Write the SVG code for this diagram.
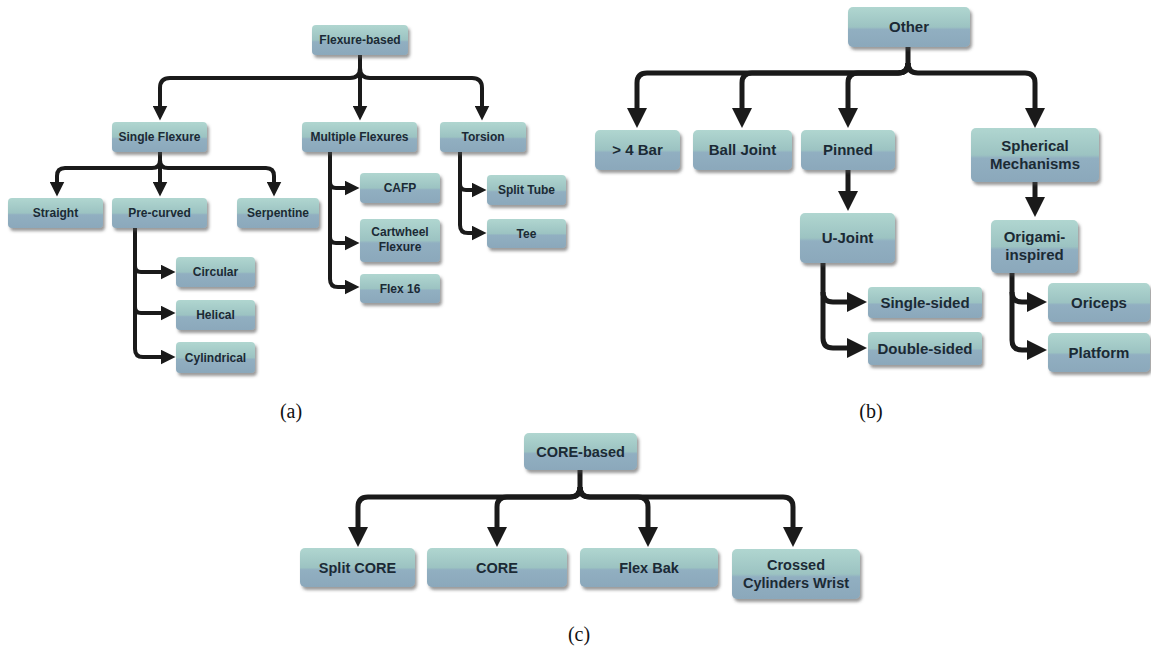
<svg xmlns="http://www.w3.org/2000/svg" width="1151" height="651" viewBox="0 0 1151 651">
<defs>
<linearGradient id="boxg" x1="0" y1="0" x2="0" y2="1">
<stop offset="0" stop-color="#b0d6d0"/>
<stop offset="0.5" stop-color="#9cc3c2"/>
<stop offset="0.56" stop-color="#91afc1"/>
<stop offset="1" stop-color="#8ba8bb"/>
</linearGradient>
<filter id="sh" x="-10%" y="-20%" width="130%" height="160%">
<feDropShadow dx="2" dy="3" stdDeviation="1.5" flood-color="#4a4a4a" flood-opacity="0.55"/>
</filter>
<marker id="ha" viewBox="0 0 10 10" refX="5" refY="5" markerWidth="15" markerHeight="15" markerUnits="userSpaceOnUse" orient="auto">
<path d="M0,0 L10,5 L0,10 z" fill="#1a1a1a"/>
</marker>
<marker id="hb" viewBox="0 0 10 10" refX="5" refY="5" markerWidth="20" markerHeight="22" markerUnits="userSpaceOnUse" orient="auto">
<path d="M0,0 L10,5 L0,10 z" fill="#1a1a1a"/>
</marker>
</defs>
<style>
.box{fill:url(#boxg);filter:url(#sh);}
.t{font-family:"Liberation Sans",Arial,sans-serif;font-weight:bold;fill:#1b2a35;text-anchor:middle;}
.ta{font-size:12px;}
.tb{font-size:15px;}
.tc{font-size:14.5px;}
.ca{fill:none;stroke:#1a1a1a;stroke-width:4;stroke-linejoin:round;marker-end:url(#ha);}
.cb{fill:none;stroke:#1a1a1a;stroke-width:5;stroke-linejoin:round;marker-end:url(#hb);}
.cap{font-family:"Liberation Serif","Times New Roman",serif;font-size:20px;fill:#111;text-anchor:middle;}
</style>
<rect width="1151" height="651" fill="#ffffff"/>

<g id="connectors">
<!-- panel a -->
<path class="ca" d="M360,55 V113"/>
<path class="ca" d="M360,68 Q360,78 350,78 H170 Q160,78 160,88 V113"/>
<path class="ca" d="M360,68 Q360,78 370,78 H472 Q482,78 482,88 V113"/>
<path class="ca" d="M160,152 V189"/>
<path class="ca" d="M160,160 Q160,168 152,168 H65 Q57,168 57,176 V189"/>
<path class="ca" d="M160,160 Q160,168 168,168 H266 Q274,168 274,176 V189"/>
<path class="ca" d="M135,228 V349 Q135,357 143,357 H168"/>
<path class="ca" d="M135,266 Q135,272 141,272 H168"/>
<path class="ca" d="M135,307 Q135,313 141,313 H168"/>
<path class="ca" d="M330,152 V279 Q330,287 338,287 H352"/>
<path class="ca" d="M330,182 Q330,188 336,188 H352"/>
<path class="ca" d="M330,237 Q330,243 336,243 H352"/>
<path class="ca" d="M460,152 V225 Q460,233 468,233 H479"/>
<path class="ca" d="M460,184 Q460,190 466,190 H479"/>
<!-- panel b -->
<path class="cb" d="M908,47 V63 Q908,73 898,73 H647 Q637,73 637,83 V118"/>
<path class="cb" d="M908,63 Q908,73 898,73 H752 Q742,73 742,83 V118"/>
<path class="cb" d="M908,63 Q908,73 898,73 H858 Q848,73 848,83 V118"/>
<path class="cb" d="M908,63 Q908,73 918,73 H1025 Q1035,73 1035,83 V118"/>
<path class="cb" d="M848,170 V201"/>
<path class="cb" d="M1035,182 V207"/>
<path class="cb" d="M823,263 V338 Q823,348 833,348 H857"/>
<path class="cb" d="M823,292 Q823,302 833,302 H857"/>
<path class="cb" d="M1012,273 V340 Q1012,350 1022,350 H1037"/>
<path class="cb" d="M1012,292 Q1012,302 1022,302 H1037"/>
<!-- panel c -->
<path class="cb" d="M580,470 V487 Q580,497 570,497 H368 Q358,497 358,507 V537"/>
<path class="cb" d="M580,487 Q580,497 570,497 H507 Q497,497 497,507 V537"/>
<path class="cb" d="M580,487 Q580,497 590,497 H638 Q648,497 648,507 V537"/>
<path class="cb" d="M580,487 Q580,497 590,497 H783 Q793,497 793,507 V537"/>
</g>

<!-- panel a nodes -->
<g id="flexure-based"><rect class="box" x="312" y="25" width="96" height="30" rx="4"/><text class="t ta" x="360" y="44">Flexure-based</text></g>
<g id="single-flexure"><rect class="box" x="112" y="122" width="95" height="30" rx="4"/><text class="t ta" x="159.5" y="141">Single Flexure</text></g>
<g id="multiple-flexures"><rect class="box" x="302" y="122" width="115" height="30" rx="4"/><text class="t ta" x="359.5" y="141">Multiple Flexures</text></g>
<g id="torsion"><rect class="box" x="440" y="122" width="86" height="30" rx="4"/><text class="t ta" x="483" y="141">Torsion</text></g>
<g id="straight"><rect class="box" x="8" y="198" width="95" height="30" rx="4"/><text class="t ta" x="55.5" y="217">Straight</text></g>
<g id="pre-curved"><rect class="box" x="112" y="198" width="95" height="30" rx="4"/><text class="t ta" x="159.5" y="217">Pre-curved</text></g>
<g id="serpentine"><rect class="box" x="237" y="198" width="82" height="30" rx="4"/><text class="t ta" x="278" y="217">Serpentine</text></g>
<g id="circular"><rect class="box" x="176" y="257" width="79" height="30" rx="4"/><text class="t ta" x="215.5" y="276">Circular</text></g>
<g id="helical"><rect class="box" x="176" y="300" width="79" height="30" rx="4"/><text class="t ta" x="215.5" y="319">Helical</text></g>
<g id="cylindrical"><rect class="box" x="176" y="342" width="79" height="31" rx="4"/><text class="t ta" x="215.5" y="361.5">Cylindrical</text></g>
<g id="cafp"><rect class="box" x="360" y="173" width="80" height="30" rx="4"/><text class="t ta" x="400" y="192">CAFP</text></g>
<g id="cartwheel-flexure"><rect class="box" x="360" y="219" width="80" height="43" rx="4"/><text class="t ta" x="400" y="236">Cartwheel</text><text class="t ta" x="400" y="251">Flexure</text></g>
<g id="flex-16"><rect class="box" x="360" y="274" width="80" height="29" rx="4"/><text class="t ta" x="400" y="292.5">Flex 16</text></g>
<g id="split-tube"><rect class="box" x="487" y="175" width="79" height="30" rx="4"/><text class="t ta" x="526.5" y="194">Split Tube</text></g>
<g id="tee"><rect class="box" x="487" y="219" width="79" height="29" rx="4"/><text class="t ta" x="526.5" y="237.5">Tee</text></g>

<!-- panel b nodes -->
<g id="other"><rect class="box" x="848" y="7" width="122" height="40" rx="5"/><text class="t tb" x="909" y="32">Other</text></g>
<g id="four-bar"><rect class="box" x="595" y="130" width="85" height="40" rx="5"/><text class="t tb" x="637.5" y="155">&gt; 4 Bar</text></g>
<g id="ball-joint"><rect class="box" x="693" y="130" width="99" height="40" rx="5"/><text class="t tb" x="742.5" y="155">Ball Joint</text></g>
<g id="pinned"><rect class="box" x="801" y="130" width="94" height="40" rx="5"/><text class="t tb" x="848" y="155">Pinned</text></g>
<g id="spherical-mechanisms"><rect class="box" x="971" y="128" width="128" height="54" rx="5"/><text class="t tb" x="1035" y="151">Spherical</text><text class="t tb" x="1035" y="169">Mechanisms</text></g>
<g id="u-joint"><rect class="box" x="800" y="213" width="95" height="50" rx="5"/><text class="t tb" x="847.5" y="243">U-Joint</text></g>
<g id="origami-inspired"><rect class="box" x="991" y="220" width="87" height="53" rx="5"/><text class="t tb" x="1034.5" y="242">Origami-</text><text class="t tb" x="1034.5" y="260">inspired</text></g>
<g id="single-sided"><rect class="box" x="868" y="287" width="114" height="31" rx="4"/><text class="t tb" x="925" y="307.5">Single-sided</text></g>
<g id="double-sided"><rect class="box" x="868" y="332" width="114" height="33" rx="4"/><text class="t tb" x="925" y="353.5">Double-sided</text></g>
<g id="oriceps"><rect class="box" x="1048" y="283" width="102" height="39" rx="5"/><text class="t tb" x="1099" y="307.5">Oriceps</text></g>
<g id="platform"><rect class="box" x="1048" y="333" width="102" height="39" rx="5"/><text class="t tb" x="1099" y="357.5">Platform</text></g>

<!-- panel c nodes -->
<g id="core-based"><rect class="box" x="524" y="433" width="113" height="37" rx="5"/><text class="t tc" x="580.5" y="456.5">CORE-based</text></g>
<g id="split-core"><rect class="box" x="300" y="548" width="115" height="39" rx="5"/><text class="t tc" x="357.5" y="572.5">Split CORE</text></g>
<g id="core"><rect class="box" x="427" y="548" width="140" height="39" rx="5"/><text class="t tc" x="497" y="572.5">CORE</text></g>
<g id="flex-bak"><rect class="box" x="580" y="548" width="138" height="39" rx="5"/><text class="t tc" x="649" y="572.5">Flex Bak</text></g>
<g id="crossed-cylinders-wrist"><rect class="box" x="732" y="549" width="128" height="50" rx="5"/><text class="t tc" x="796" y="570">Crossed</text><text class="t tc" x="796" y="588">Cylinders Wrist</text></g>

<g id="captions">
<text class="cap" x="291" y="418">(a)</text>
<text class="cap" x="871" y="418">(b)</text>
<text class="cap" x="579" y="641">(c)</text>
</g>
</svg>
